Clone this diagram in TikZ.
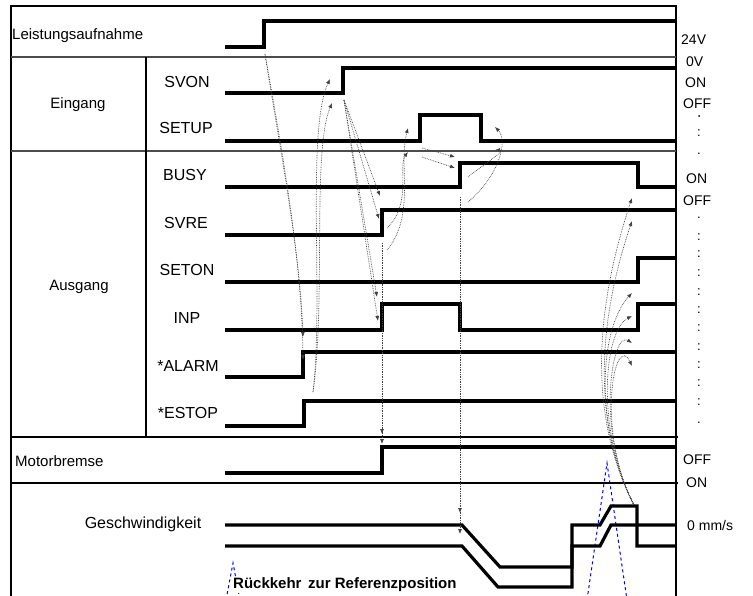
\documentclass[tikz,border=0pt]{standalone}
\usepackage{fontspec}
\setmainfont{Liberation Sans}
\usetikzlibrary{arrows.meta}

\begin{document}
\begin{tikzpicture}[x=1pt,y=-1pt,
  sig/.style={line width=3.2pt, line join=miter},
  rowline/.style={line width=1.4pt},
  dep/.style={densely dotted, line width=0.7pt, black!75, -{Latex[length=5pt,width=4pt]}},
  rowlbl/.style={font=\fontsize{15}{18}\selectfont, inner sep=0pt},
  siglbl/.style={font=\fontsize{16}{19}\selectfont, inner sep=0pt},
  unitlbl/.style={font=\fontsize{14}{16}\selectfont, anchor=west, inner sep=0pt},
  dotlbl/.style={font=\fontsize{13}{15}\selectfont, inner sep=0pt},
  peak/.style={blue, dashed, line width=1pt}]
\useasboundingbox (0,0) rectangle (753,596);
\draw[line width=2pt] (11,600) -- (11,6) -- (676,6) -- (676,600);
\draw[rowline, black!70] (11,57) -- (676,57);
\draw[rowline, black!70] (11,151) -- (676,151);
\draw[rowline] (11,437) -- (678,437);
\draw[rowline] (11,483) -- (678,483);
\draw[line width=2pt] (146,57) -- (146,437);
\node[rowlbl, anchor=west] (lpwr) at (12,36) {Leistungsaufnahme};
\node[rowlbl] (lin) at (78,105) {Eingang};
\node[rowlbl] (lout) at (79,287) {Ausgang};
\node[rowlbl, anchor=west] (lbrk) at (15,461) {Motorbremse};
\node[siglbl] (lspd) at (143,524) {Geschwindigkeit};
\node[siglbl] (lsvon) at (187,82) {SVON};
\node[siglbl] (lsetup) at (186,128) {SETUP};
\node[siglbl] (lbusy) at (185,175) {BUSY};
\node[siglbl] (lsvre) at (186,223) {SVRE};
\node[siglbl] (lseton) at (187,270) {SETON};
\node[siglbl] (linp) at (187,318) {INP};
\node[siglbl] (lalarm) at (188,366) {*ALARM};
\node[siglbl] (lestop) at (188,413) {*ESTOP};
\node[unitlbl] (u24) at (681,40) {24V};
\node[unitlbl] (u0) at (686,62) {0V};
\node[unitlbl] (uon1) at (685,83) {ON};
\node[unitlbl] (uoff1) at (683,104) {OFF};
\node[unitlbl] (uon2) at (686,179) {ON};
\node[unitlbl] (uoff2) at (683,201) {OFF};
\node[unitlbl] (uoff3) at (683,460) {OFF};
\node[unitlbl] (uon3) at (686,483) {ON};
\node[unitlbl] (umms) at (687,525) {0 mm/s};
\foreach \y in {133,237,254,273,292,310,328,347,365,383,402}
  \node[dotlbl] at (699,\y) {:};
\foreach \y in {154,218,423}
  \node[dotlbl] at (699,\y) {.};
\fill (699,116) circle (1pt);
\draw[peak] (226,600) -- (233,563) -- (240,600);
\draw[peak] (587,600) -- (607,463) -- (627,600);
\node[font=\bfseries\fontsize{15}{18}\selectfont, anchor=west, fill=white, inner sep=1pt] (lref) at (232,585) {Rückkehr\, zur Referenzposition};
\draw[sig] (225,47) -- (264,47) -- (264,21) -- (676,21);
\draw[sig] (225,93) -- (343,93) -- (343,68) -- (676,68);
\draw[sig] (225,141) -- (420,141) -- (420,115) -- (481,115) -- (481,141) -- (676,141);
\draw[sig] (225,187) -- (460,187) -- (460,163) -- (638,163) -- (638,187) -- (676,187);
\draw[sig] (225,235) -- (382,235) -- (382,210) -- (676,210);
\draw[sig] (225,282) -- (638,282) -- (638,258) -- (676,258);
\draw[sig] (225,330) -- (382,330) -- (382,304) -- (460,304) -- (460,330) -- (638,330) -- (638,304) -- (676,304);
\draw[sig] (225,377) -- (303,377) -- (303,352) -- (676,352);
\draw[sig] (225,426) -- (304,426) -- (304,401) -- (676,401);
\draw[sig] (225,473) -- (382,473) -- (382,447) -- (676,447);
\draw[sig] (225,525) -- (462,525) -- (500,567) -- (572,567) -- (572,525) -- (600,525) -- (611,506) -- (637,506) -- (637,546) -- (676,546);
\draw[sig] (225,546) -- (462,546) -- (498,587) -- (572,587) -- (572,546) -- (600,546) -- (611,525) -- (676,525);
\coordinate (pwr) at (265,54);
\coordinate (alarmA) at (303,337);
\coordinate (alarmB) at (303,360);
\coordinate (estop) at (313,392);
\coordinate (svonA) at (330,79);
\coordinate (svonB) at (332,103);
\coordinate (svon) at (344,100);
\coordinate (busyA) at (380,196);
\coordinate (svreA) at (379,219);
\coordinate (inpA) at (377,297);
\coordinate (inpB) at (378,321);
\coordinate (svreU) at (387,228);
\coordinate (svreL) at (387,250);
\coordinate (setupA) at (408,128);
\coordinate (setupB) at (408,152);
\coordinate (setupR) at (422,148);
\coordinate (setupS) at (422,157);
\coordinate (busyR) at (455,157);
\coordinate (busyS) at (455,168);
\coordinate (busyU) at (468,177);
\coordinate (busyL) at (468,202);
\coordinate (setupF) at (495,127);
\coordinate (setupG) at (495,150);
\coordinate (svreV) at (382,243);
\coordinate (brakeA) at (382,434);
\coordinate (brakeB) at (382,444);
\coordinate (busyV) at (460,197);
\coordinate (speedA) at (460,513);
\coordinate (speedB) at (460,534);
\coordinate (spd) at (634,505);
\draw[dep] (pwr) .. controls (280,150) and (300,250) .. (alarmA);
\draw[dep] (pwr) .. controls (282,150) and (302,260) .. (alarmB);
\draw[dep] (estop) .. controls (324,300) and (306,130) .. (svonA);
\draw[dep] (estop) .. controls (326,300) and (312,150) .. (svonB);
\draw[dep] (svon) -- (busyA);
\draw[dep] (svon) -- (svreA);
\draw[dep] (svon) -- (inpA);
\draw[dep] (svon) -- (inpB);
\draw[dep] (svreU) .. controls (412,205) and (398,165) .. (setupB);
\draw[dep] (svreL) .. controls (416,215) and (398,165) .. (setupA);
\draw[dep] (setupR) -- (busyR);
\draw[dep] (setupS) -- (busyS);
\draw[dep] (busyU) .. controls (490,160) and (506,150) .. (setupG);
\draw[dep] (busyL) .. controls (500,175) and (508,140) .. (setupF);
\draw[dep] (svreV) -- (brakeA);
\draw[dep] (svreV) -- (brakeB);
\draw[dep] (busyV) -- (speedA);
\draw[dep] (busyV) -- (speedB);
\foreach \t/\c in {198/588, 221/595, 293/598, 316/604, 343/612, 366/615}
  \draw[dep] (spd) .. controls (595,430) and (\c,330) .. (632,\t);
\end{tikzpicture}
\end{document}
